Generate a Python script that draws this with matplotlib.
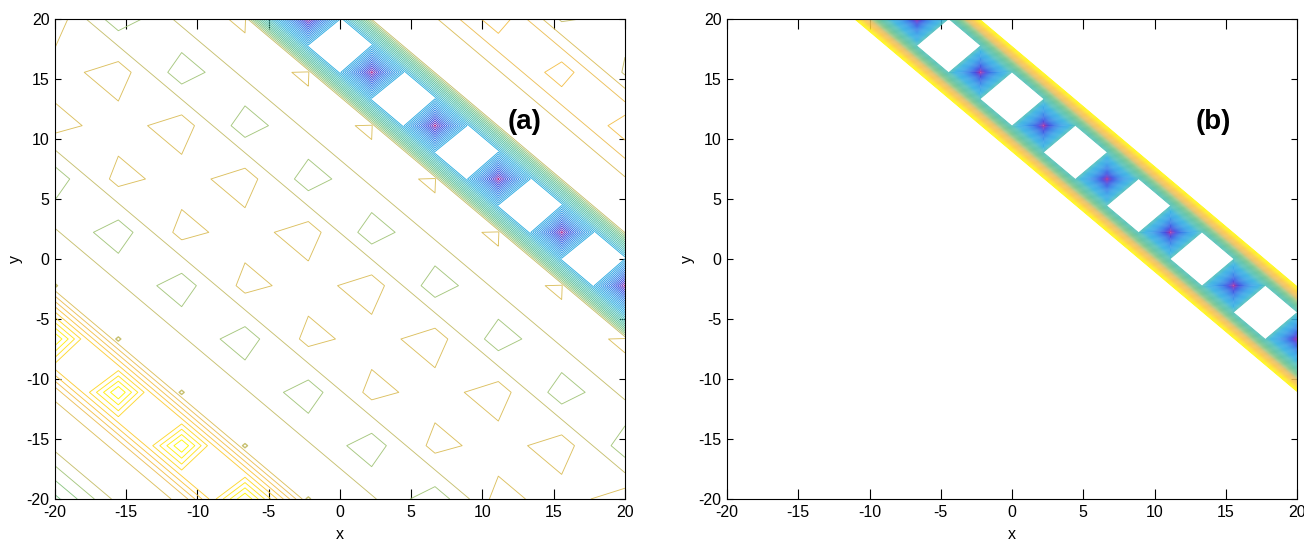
import numpy as np
import matplotlib
matplotlib.use("Agg")
import matplotlib.pyplot as plt
from matplotlib.colors import LinearSegmentedColormap, Normalize

plt.rcParams['font.family'] = ['Liberation Sans', 'DejaVu Sans']
plt.rcParams['axes.unicode_minus'] = False

# values on the grid, one per diagonal (i + j = 0 .. 18)
diag_a = [4.3, 0.6, -0.12, -9.1, 0.97, 0.86, 2.74, -0.45, 0.60, -0.70, 2.76, 0.71,
          -0.25, 29.4, 0.8, 0.12, -2.78, 1.2, 0.5]
diag_b = [0, 0, 0, 0, 0, 0, 0, 0, 0, 0, 0, 0, 61, 0, 0, 0, 0, 0, 0]
# small bumps on the fifth diagonal of (a)
diag_dots = [0, 0, 0, 0, 1.0, 0, 0, 0, 0, 0, 0, 0, 0, 0, 0, 0, 0, 0, 0]

levels_a = np.arange(-8, 30)
levels_b = np.arange(1, 61)
levels_dots = [0.96]

ticks = [-20, -15, -10, -5, 0, 5, 10, 15, 20]
panel_names = ['(a)', '(b)']

palette = LinearSegmentedColormap.from_list('contour_pal', [
    (0.00, '#ffff00'), (0.07, '#ffe820'), (0.14, '#fcc840'), (0.20, '#f0c058'),
    (0.236, '#dcc060'), (0.262, '#c8c070'), (0.288, '#a4c880'), (0.34, '#78c488'),
    (0.42, '#58c0a0'), (0.50, '#50c0b8'), (0.60, '#30b0e0'), (0.70, '#30a0e8'),
    (0.82, '#3078e8'), (0.91, '#3848e0'), (0.97, '#7030c0'), (1.00, '#c02080')])


def make_grid(diag):
    xs = np.linspace(-20, 20, 10)
    ii, jj = np.meshgrid(np.arange(10), np.arange(10))
    return xs, np.array(diag, dtype=float)[ii + jj]


def setup_axes(ax, name, name_x):
    ax.set_xlim(-20, 20)
    ax.set_ylim(-20, 20)
    ax.set_xticks(ticks)
    ax.set_yticks(ticks)
    ax.tick_params(axis='x', direction='in', top=True, length=7.5, width=0.8, labelsize=11.5, pad=4)
    ax.tick_params(axis='y', direction='in', right=True, length=4, width=0.8, labelsize=11.5, pad=4)
    ax.set_xlabel('x', fontsize=11.5)
    ax.set_ylabel('y', fontsize=11.5)
    ax.xaxis.set_label_coords(0.5, -0.058)
    ax.yaxis.set_label_coords(-0.056, 0.5)
    ax.text(name_x, 11.4, name, fontsize=20, fontweight='bold', ha='center', va='center')


fig = plt.figure(figsize=(13.04, 5.42), dpi=100)
W, H = 1304.0, 542.0
ax_a = fig.add_axes([55 / W, 1 - 499 / H, 570 / W, 480 / H])
ax_b = fig.add_axes([727 / W, 1 - 499 / H, 570 / W, 480 / H])

xs, za = make_grid(diag_a)
norm_a = Normalize(-9.1, 29.4)
ax_a.contour(xs, xs, za, levels=levels_a, cmap=palette, norm=norm_a, linewidths=0.65)
_, zd = make_grid(diag_dots)
ax_a.contour(xs, xs, zd, levels=levels_dots, colors=[palette(norm_a(1))], linewidths=1.0)

_, zb = make_grid(diag_b)
ax_b.contour(xs, xs, zb, levels=levels_b, cmap=palette, norm=Normalize(0, 61), linewidths=0.6)

setup_axes(ax_a, panel_names[0], 12.98)
setup_axes(ax_b, panel_names[1], 14.1)

fig.savefig('out.png', dpi=100)
